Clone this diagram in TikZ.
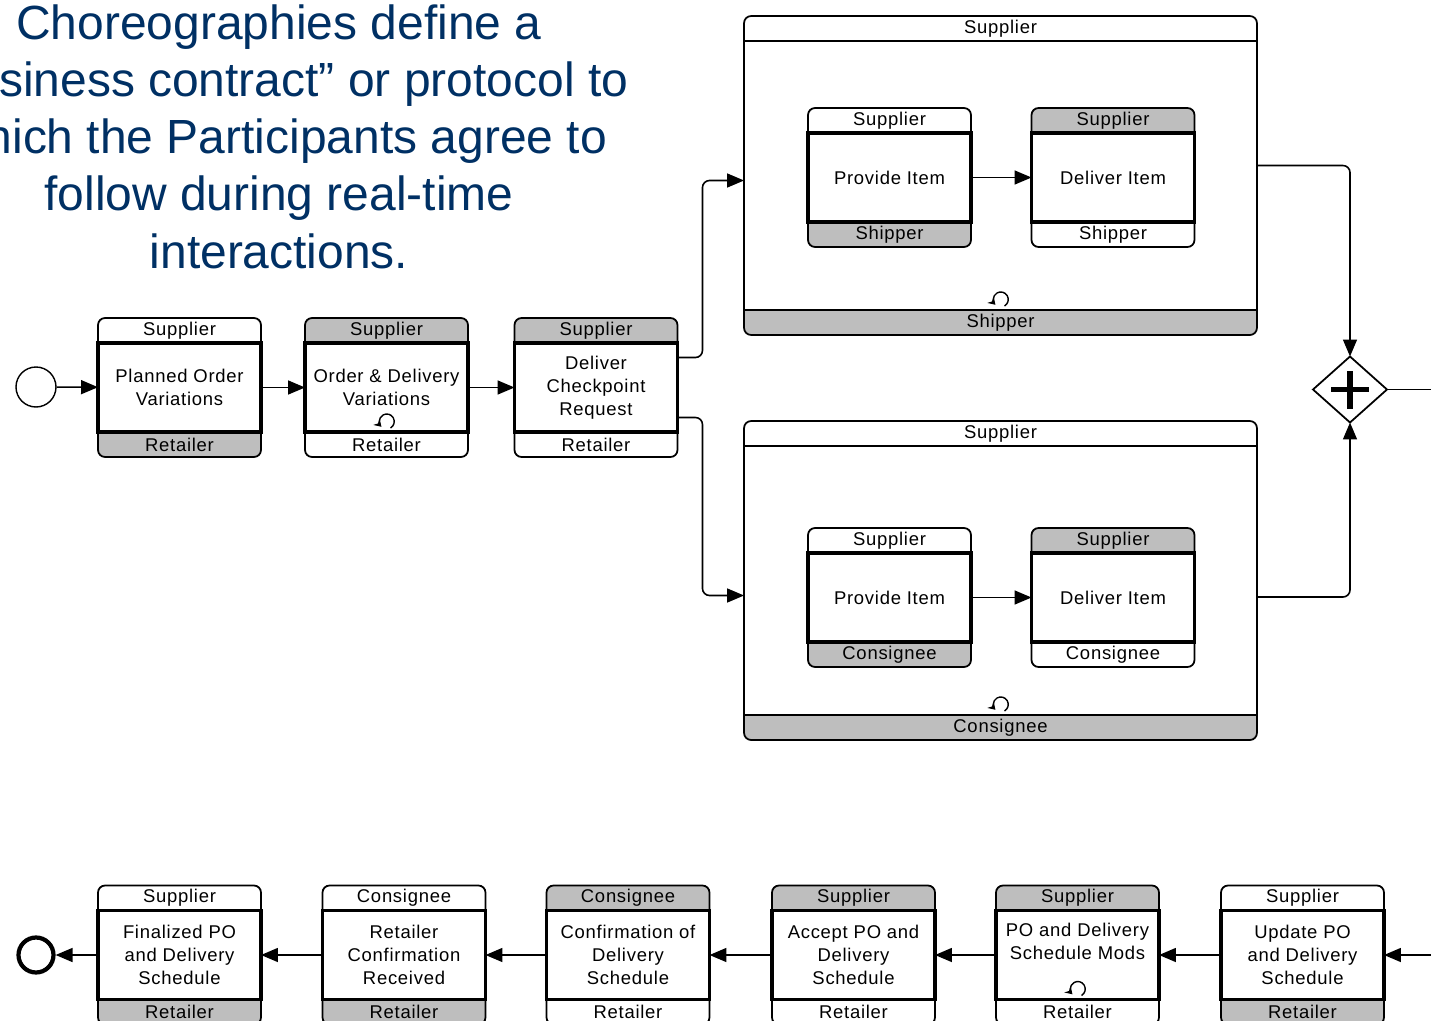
\documentclass[tikz,border=0pt]{standalone}
\usepackage{fontspec}
\setmainfont{Liberation Sans}
\newfontfamily\taskfont[LetterSpace=4]{Liberation Sans}
\usetikzlibrary{arrows.meta,shapes.geometric}
\definecolor{titleblue}{RGB}{0,48,100}
\definecolor{bandgray}{RGB}{190,190,190}

\tikzset{
  taskbody/.style={fill=white, draw, line width=2.2pt, minimum width=3.26cm, minimum height=1.78cm,
    inner sep=0pt, outer sep=0pt, align=center, font=\taskfont\fontsize{10.5}{13}\selectfont},
  subbody/.style={fill=white, draw, line width=0.8pt, minimum width=10.26cm, minimum height=5.38cm,
    inner sep=0pt, outer sep=0pt},
  band/.style={line width=1pt, rounded corners=4pt},
  bandtext/.style={font=\taskfont\fontsize{10.5}{13}\selectfont, inner sep=0pt},
  flow/.style={line width=0.9pt, rounded corners=4pt, -{Triangle[length=0.34cm,width=0.28cm]}},
  loopline/.style={line width=0.8pt, -{Stealth[length=4pt,width=5pt]}},
  startev/.style={circle, draw, line width=0.8pt, minimum size=0.8cm, inner sep=0pt},
  endev/.style={circle, draw, line width=2.4pt, minimum size=0.7cm, inner sep=0pt},
  gateway/.style={diamond, draw, line width=1pt, minimum width=1.48cm, minimum height=1.32cm,
    inner sep=0pt, outer sep=0pt},
  intro/.style={align=center, text=titleblue, font=\fontsize{27.3}{32.6}\selectfont, inner sep=0pt}
}

% choreography task: body style, name, position, text, top band, fill, bottom band, fill
\newcommand{\choreo}[8]{%
  \node[#1] (#2) at (#3) {#4};
  \filldraw[band, fill=#6] (#2.north west) -- ([yshift=0.5cm]#2.north west)
    -- ([yshift=0.5cm]#2.north east) -- (#2.north east);
  \node[bandtext] (#2-top) at ([yshift=0.25cm]#2.north) {#5};
  \filldraw[band, fill=#8] (#2.south west) -- ([yshift=-0.5cm]#2.south west)
    -- ([yshift=-0.5cm]#2.south east) -- (#2.south east);
  \node[bandtext] (#2-bot) at ([yshift=-0.25cm]#2.south) {#7};
  \draw[#1, fill=none] (#2.south west) rectangle (#2.north east); % frame again over the bands
}
% loop marker at the bottom of a task
\newcommand{\loopmark}[1]{%
  \draw[loopline] ([shift={(0.08cm,0.08cm)}]#1.south) arc[start angle=-60, end angle=225, radius=0.15cm];
}

\begin{document}
\begin{tikzpicture}[x=0.02cm, y=-0.02cm]
  \useasboundingbox (0,0) rectangle (1431,1021);
  \clip (0,0) rectangle (1431,1021);

  \node[intro, anchor=north] (intro) at (279,4) {Choreographies define a\\
    “business contract” or protocol to\\which the Participants agree to\\
    follow during real-time\\interactions.};

  % upper flow
  \node[startev] (start) at (36,387) {};
  \choreo{taskbody}{t1}{179.5,387.5}{Planned Order\\Variations}{Supplier}{white}{Retailer}{bandgray}
  \choreo{taskbody}{t2}{386.5,387.5}{Order \& Delivery\\Variations}{Supplier}{bandgray}{Retailer}{white}
  \loopmark{t2}
  \choreo{taskbody}{t3}{596,387.5}{Deliver\\Checkpoint\\Request}{Supplier}{bandgray}{Retailer}{white}

  % sub-choreographies
  \choreo{subbody}{sub1}{1000.5,175.5}{}{Supplier}{white}{Shipper}{bandgray}
  \loopmark{sub1}
  \choreo{taskbody}{p1}{889.5,177.5}{Provide Item}{Supplier}{white}{Shipper}{bandgray}
  \choreo{taskbody}{d1}{1113,177.5}{Deliver Item}{Supplier}{bandgray}{Shipper}{white}

  \choreo{subbody}{sub2}{1000.5,580.5}{}{Supplier}{white}{Consignee}{bandgray}
  \loopmark{sub2}
  \choreo{taskbody}{p2}{889.5,597.5}{Provide Item}{Supplier}{white}{Consignee}{bandgray}
  \choreo{taskbody}{d2}{1113,597.5}{Deliver Item}{Supplier}{bandgray}{Consignee}{white}

  % parallel join
  \node[gateway] (gw) at (1350,389.5) {};
  \draw[line width=3.2pt] ([xshift=-0.38cm]gw.center) -- ([xshift=0.38cm]gw.center);
  \draw[line width=3.2pt] ([yshift=-0.38cm]gw.center) -- ([yshift=0.38cm]gw.center);
  \coordinate (gwout) at (1431,389.5);

  \draw[flow] (start) -- (t1);
  \draw[flow] (t1) -- (t2);
  \draw[flow] (t2) -- (t3);
  \draw[flow] ([yshift=0.6cm]t3.east) -- ++(0.5cm,0) |- ([yshift=-0.1cm]sub1.west);
  \draw[flow] ([yshift=-0.6cm]t3.east) -- ++(0.5cm,0) |- ([yshift=-0.3cm]sub2.west);
  \draw[flow] (p1) -- (d1);
  \draw[flow] (p2) -- (d2);
  \draw[flow] ([yshift=0.2cm]sub1.east) -| (gw.north);
  \draw[flow] ([yshift=-0.33cm]sub2.east) -| (gw.south);
  \draw[line width=0.9pt] (gw.east) -- (gwout);

  % lower flow, right to left
  \choreo{taskbody}{b1}{179.5,955}{Finalized PO\\and Delivery\\Schedule}{Supplier}{white}{Retailer}{bandgray}
  \choreo{taskbody}{b2}{404,955}{Retailer\\Confirmation\\Received}{Consignee}{white}{Retailer}{bandgray}
  \choreo{taskbody}{b3}{628,955}{Confirmation of\\Delivery\\Schedule}{Consignee}{bandgray}{Retailer}{white}
  \choreo{taskbody}{b4}{853.5,955}{Accept PO and\\Delivery\\Schedule}{Supplier}{bandgray}{Retailer}{white}
  \choreo{taskbody}{b5}{1077.5,955}{PO and Delivery\\Schedule Mods\\[3pt]}{Supplier}{bandgray}{Retailer}{white}
  \loopmark{b5}
  \choreo{taskbody}{b6}{1302.5,955}{Update PO\\and Delivery\\Schedule}{Supplier}{white}{Retailer}{bandgray}
  \node[endev] (finish) at (36,955) {};
  \coordinate (botin) at (1431,955);

  \draw[flow] (botin) -- (b6);
  \draw[flow] (b6) -- (b5);
  \draw[flow] (b5) -- (b4);
  \draw[flow] (b4) -- (b3);
  \draw[flow] (b3) -- (b2);
  \draw[flow] (b2) -- (b1);
  \draw[flow] (b1) -- (finish);
\end{tikzpicture}
\end{document}
